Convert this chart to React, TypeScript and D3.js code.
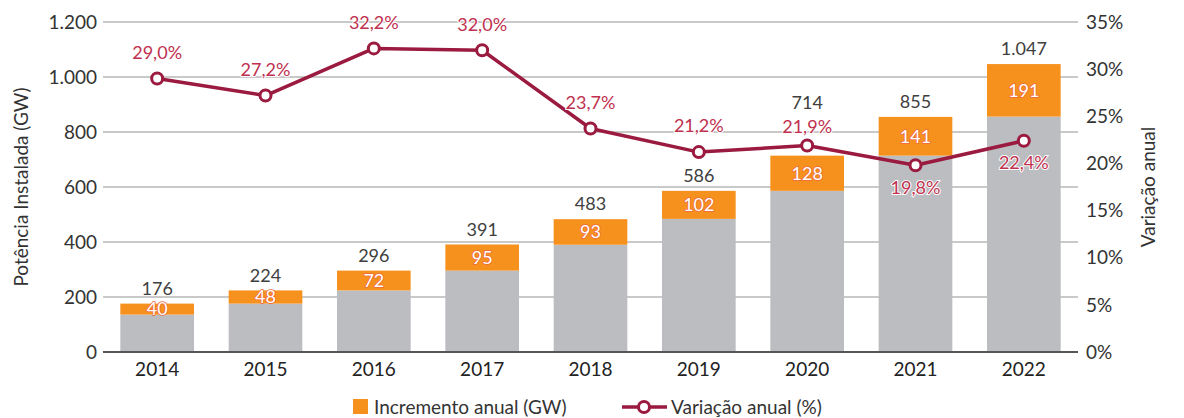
import * as d3 from "d3";

// data
const years = ["2014", "2015", "2016", "2017", "2018", "2019", "2020", "2021", "2022"];
const totals = [176, 224, 296, 391, 483, 586, 714, 855, 1047];
const increments = [40, 48, 72, 95, 93, 102, 128, 141, 191];
const variation = [29.0, 27.2, 32.2, 32.0, 23.7, 21.2, 21.9, 19.8, 22.4];
const leftTicks = [0, 200, 400, 600, 800, 1000, 1200];
const rightTicks = [0, 5, 10, 15, 20, 25, 30, 35];
const labelBelow = ["2021", "2022"];

const W = 1184;
const H = 418;
const margin = { top: 22, bottom: 66, left: 103, right: 106 };
const FONT = "Lato, 'Open Sans', sans-serif";

const fmt = (v: number) => d3.format(",")(v).replace(/,/g, ".");
const fmtPct = (v: number) => v.toFixed(1).replace(".", ",") + "%";

function App() {
    const x = d3.scaleBand().domain(years).range([margin.left, W - margin.right]).paddingInner(0.32).paddingOuter(0.16);
    const y = d3.scaleLinear().domain([0, 1200]).range([H - margin.bottom, margin.top]);
    const y2 = d3.scaleLinear().domain([0, 35]).range([H - margin.bottom, margin.top]);

    const line = d3.line<number>()
        .x((_, i) => x(years[i])! + x.bandwidth() / 2)
        .y(d => y2(d));

    // label placement: when the line point sits on the total label, stack total above the % label
    const labels = years.map((yr, i) => {
        const cy = y2(variation[i]);
        const totalY = y(totals[i]) - 15;
        const clash = Math.abs(totalY - cy) < 15;
        const below = labelBelow.includes(yr);
        return {
            totalY: clash ? cy - 43 : totalY,
            pctY: below ? cy + 22 : clash ? cy - 19 : cy - 26,
        };
    });

    return (
        <svg width={W} height={H} style={{ position: "absolute", left: 0, top: 0 }} fontFamily={FONT}>
            {/* grid */}
            {leftTicks.filter(t => t > 0).map(t => (
                <line key={t} x1={margin.left} x2={W - margin.right} y1={y(t)} y2={y(t)} stroke="#c9c9c9" strokeWidth={2} />
            ))}
            {/* left ticks */}
            {leftTicks.map(t => (
                <text key={t} x={margin.left - 6} y={y(t)} dy="0.35em" textAnchor="end" fontSize={19} fill="#333">{fmt(t)}</text>
            ))}
            {/* right ticks */}
            {rightTicks.map(t => (
                <text key={t} x={W - margin.right + 8} y={y2(t)} dy="0.35em" textAnchor="start" fontSize={19} fill="#333">{t}%</text>
            ))}
            <text transform={`translate(21,${(margin.top + H - margin.bottom) / 2}) rotate(-90)`} textAnchor="middle" dy="0.35em" fontSize={19} fill="#333">Potência Instalada (GW)</text>
            <text transform={`translate(1148,${(margin.top + H - margin.bottom) / 2}) rotate(-90)`} textAnchor="middle" dy="0.35em" fontSize={19} fill="#333">Variação anual</text>

            {/* bars */}
            {years.map((yr, i) => {
                const bx = x(yr)!;
                const bw = x.bandwidth();
                const base = totals[i] - increments[i];
                return (
                    <g key={yr}>
                        <rect x={bx} width={bw} y={y(base)} height={y(0) - y(base)} fill="#bcbdc0" />
                        <rect x={bx} width={bw} y={y(totals[i])} height={y(base) - y(totals[i])} fill="#f7911e" />
                        <text x={bx + bw / 2} y={labels[i].totalY} dy="0.35em" textAnchor="middle" fontSize={18} fill="#404040">{fmt(totals[i])}</text>
                        <text x={bx + bw / 2} y={(y(totals[i]) + y(base)) / 2} dy="0.35em" textAnchor="middle" fontSize={18}
                            fill="#fff" stroke="#ee6a3a" strokeWidth={1.6} paintOrder="stroke">{increments[i]}</text>
                        <text x={bx + bw / 2} y={H - margin.bottom + 17} dy="0.35em" textAnchor="middle" fontSize={19} fill="#222">{yr}</text>
                    </g>
                );
            })}

            {/* baseline */}
            <line x1={margin.left} x2={W - margin.right} y1={y(0)} y2={y(0)} stroke="#555" strokeWidth={2} />

            {/* variation line */}
            <path d={line(variation)!} fill="none" stroke="#9b1a3f" strokeWidth={3.5} strokeLinejoin="round" />
            {variation.map((v, i) => {
                const cx = x(years[i])! + x.bandwidth() / 2;
                const cy = y2(v);
                return (
                    <g key={years[i]}>
                        <circle cx={cx} cy={cy} r={5.5} fill="#fff" stroke="#9b1a3f" strokeWidth={3} />
                        <text x={cx} y={labels[i].pctY} dy="0.35em" textAnchor="middle" fontSize={18}
                            fill="#c0304f" stroke="#fff" strokeWidth={2} paintOrder="stroke">{fmtPct(v)}</text>
                    </g>
                );
            })}

            {/* legend */}
            <rect x={353} y={399} width={15} height={15} fill="#f7911e" />
            <text x={374} y={407} dy="0.35em" fontSize={19} fill="#333">Incremento anual (GW)</text>
            <line x1={622} x2={667} y1={407} y2={407} stroke="#9b1a3f" strokeWidth={3.5} />
            <circle cx={644} cy={407} r={5.5} fill="#fff" stroke="#9b1a3f" strokeWidth={3} />
            <text x={671} y={407} dy="0.35em" fontSize={19} fill="#333">Variação anual (%)</text>
        </svg>
    );
}

export default App;
